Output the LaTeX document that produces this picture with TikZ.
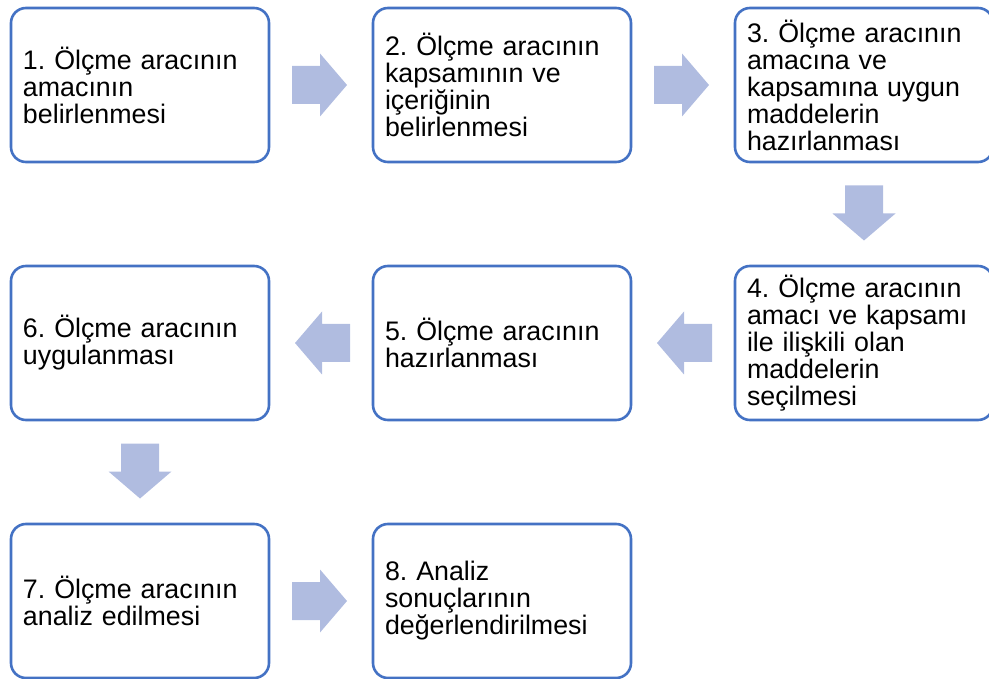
\documentclass[tikz,border=0pt]{standalone}
\usepackage{fontspec}
\setmainfont{Liberation Sans}
\frenchspacing
\usetikzlibrary{calc}
\definecolor{boxline}{RGB}{68,114,196}
\definecolor{arrowfill}{RGB}{176,188,224}
% block arrow: #1 centre, #2 rotation (0 = right, 180 = left, -90 = down)
\newcommand\flowarrow[2]{%
  \fill[arrowfill, shift={#1}, rotate=#2]
    (-27.5,-19) -- (0.5,-19) -- (0.5,-31.5) -- (27.5,0) -- (0.5,31.5)
    -- (0.5,19) -- (-27.5,19) -- cycle;}
\begin{document}
\begin{tikzpicture}[x=1pt,y=-1pt,
  stepbox/.style={draw=boxline, line width=2.6pt, rounded corners=15pt, fill=white,
    minimum width=258pt, minimum height=154pt, text width=234pt,
    inner xsep=12pt, inner ysep=0pt, align=left,
    font=\fontsize{26.8}{27}\selectfont}]
\useasboundingbox (0,0) rectangle (989,679);

\node[stepbox] (b1) at (140,85)  {1. Ölçme aracının\\amacının\\belirlenmesi};
\node[stepbox] (b2) at (502,85)  {2. Ölçme aracının\\kapsamının ve\\içeriğinin\\belirlenmesi};
\node[stepbox] (b3) at (864,85)  {3. Ölçme aracının\\amacına ve\\kapsamına uygun\\maddelerin\\hazırlanması};
\node[stepbox] (b4) at (864,343) {4. Ölçme aracının\\amacı ve kapsamı\\ile ilişkili olan\\maddelerin\\seçilmesi};
\node[stepbox] (b5) at (502,343) {5. Ölçme aracının\\hazırlanması};
\node[stepbox] (b6) at (140,343) {6. Ölçme aracının\\uygulanması};
\node[stepbox] (b7) at (140,601) {7. Ölçme aracının\\analiz edilmesi};
\node[stepbox] (b8) at (502,601) {8. Analiz\\sonuçlarının\\değerlendirilmesi};

\flowarrow{($(b1.east)!0.5!(b2.west)+(-1.5,0)$)}{0}
\flowarrow{($(b2.east)!0.5!(b3.west)+(-1.5,0)$)}{0}
\flowarrow{($(b3.south)!0.5!(b4.north)+(0,-1)$)}{-90}
\flowarrow{($(b4.west)!0.5!(b5.east)+(1.5,0)$)}{180}
\flowarrow{($(b5.west)!0.5!(b6.east)+(1.5,0)$)}{180}
\flowarrow{($(b6.south)!0.5!(b7.north)+(0,-1)$)}{-90}
\flowarrow{($(b7.east)!0.5!(b8.west)+(-1.5,0)$)}{0}
\end{tikzpicture}
\end{document}
